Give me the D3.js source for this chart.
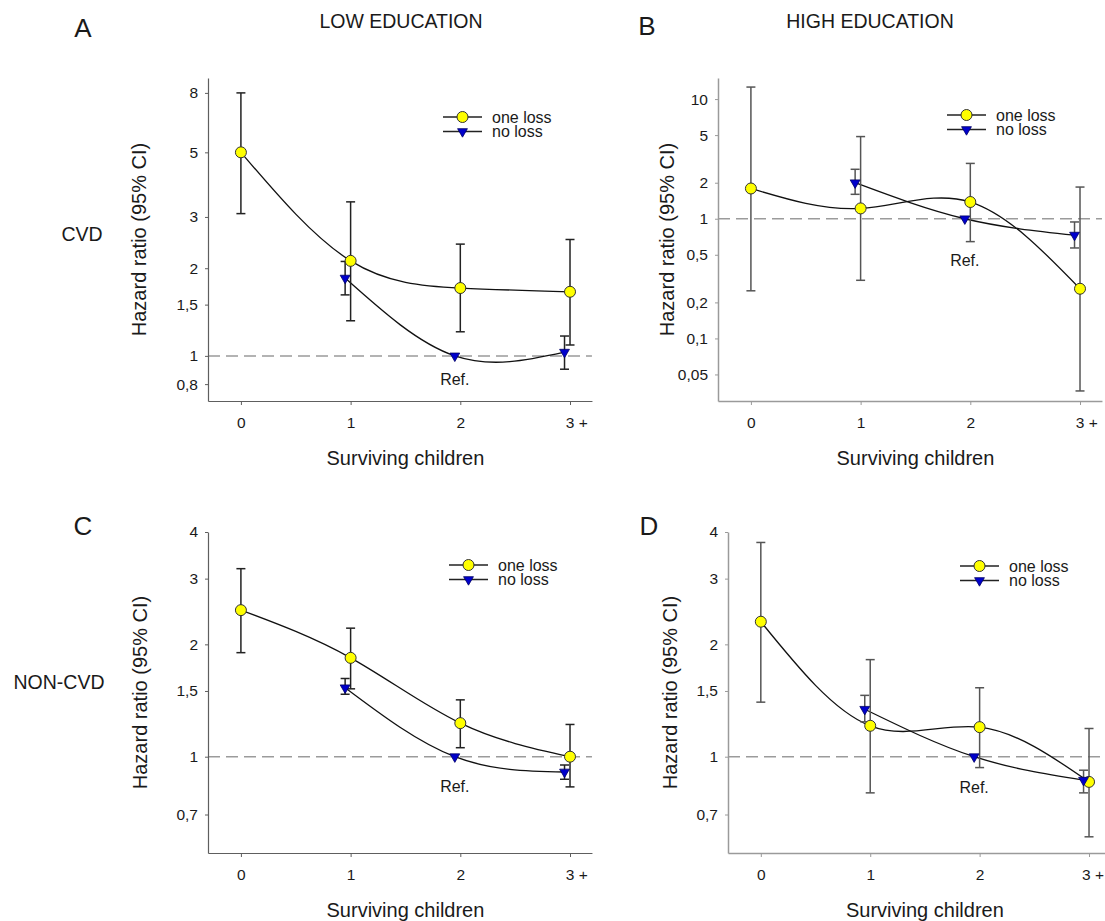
<!DOCTYPE html>
<html>
<head>
<meta charset="utf-8">
<script src="https://cdn.jsdelivr.net/npm/d3@7"></script>
<style>
  body { margin: 0; background: #fff; }
  svg text { font-family: "Liberation Sans", Arial, sans-serif; fill: #1a1a1a; }
</style>
</head>
<body>
<script>
// categories on x axis
var categories = ["0", "1", "2", "3 +"];
var xValues = [0, 1, 2, 3];

// A: low education, CVD
var aOneHR = [5.0, 2.12, 1.71, 1.66];
var aOneLo = [3.08, 1.32, 1.21, 1.09];
var aOneHi = [8.0, 3.38, 2.42, 2.51];
var aNoHR = [null, 1.85, 1.0, 1.03];
var aNoLo = [null, 1.62, null, 0.90];
var aNoHi = [null, 2.11, null, 1.17];

// B: high education, CVD
var bOneHR = [1.79, 1.22, 1.38, 0.26];
var bOneLo = [0.25, 0.306, 0.644, 0.0364];
var bOneHi = [12.6, 4.86, 2.9, 1.84];
var bNoHR = [null, 2.0, 1.0, 0.73];
var bNoLo = [null, 1.6, null, 0.57];
var bNoHi = [null, 2.59, null, 0.94];

// C: low education, non-CVD
var cOneHR = [2.47, 1.84, 1.23, 1.0];
var cOneLo = [1.90, 1.52, 1.057, 0.83];
var cOneHi = [3.19, 2.21, 1.42, 1.22];
var cNoHR = [null, 1.53, 1.0, 0.91];
var cNoLo = [null, 1.47, null, 0.87];
var cNoHi = [null, 1.62, null, 0.95];

// D: high education, non-CVD
var dOneHR = [2.30, 1.21, 1.20, 0.856];
var dOneLo = [1.40, 0.80, 0.935, 0.61];
var dOneHi = [3.75, 1.82, 1.53, 1.19];
var dNoHR = [null, 1.34, 1.0, 0.865];
var dNoLo = [null, 1.24, null, 0.80];
var dNoHi = [null, 1.46, null, 0.92];

// y axis ticks / domains
var aTicks = [0.8, 1, 1.5, 2, 3, 5, 8];
var bTicks = [0.05, 0.1, 0.2, 0.5, 1, 2, 5, 10];
var cdTicks = [0.7, 1, 1.5, 2, 3, 4];
var aDomain = [0.7, 9];
var bDomain = [0.03, 15];
var cdDomain = [0.552, 4];

var seriesNames = ["one loss", "no loss"];
var refLabel = "Ref.";
var xTitle = "Surviving children";
var yTitle = "Hazard ratio (95% CI)";

var noLossShift = -0.05; // no loss markers sit a bit left of the tick

var svg = d3.select("body").append("svg")
  .attr("width", 1105)
  .attr("height", 921);

// panel boxes and styling
var panels = [
  { letter: "A", one: [aOneHR, aOneLo, aOneHi], no: [aNoHR, aNoLo, aNoHi], ticks: aTicks, domain: aDomain,
    left: 208, top: 78, bottom: 401, unit: 109.7, axisCol: "#5e5e5e", axisW: 1.2, barCol: "#222",
    legX: 235, legY: 39, refDy: 29, titleX: 146, letterX: 83, letterY: 37, lastDx: -4.8 },
  { letter: "B", one: [bOneHR, bOneLo, bOneHi], no: [bNoHR, bNoLo, bNoHi], ticks: bTicks, domain: bDomain,
    left: 718, top: 78, bottom: 401, unit: 109.7, axisCol: "#9a9a9a", axisW: 1.5, barCol: "#555",
    legX: 229, legY: 37, refDy: 47, titleX: 674, letterX: 647, letterY: 35, lastDx: -4.8 },
  { letter: "C", one: [cOneHR, cOneLo, cOneHi], no: [cNoHR, cNoLo, cNoHi], ticks: cdTicks, domain: cdDomain,
    left: 208, top: 532, bottom: 853, unit: 109.7, axisCol: "#5e5e5e", axisW: 1.2, barCol: "#222",
    legX: 241, legY: 33, refDy: 35, titleX: 147, letterX: 83, letterY: 535, lastDx: -4.8 },
  { letter: "D", one: [dOneHR, dOneLo, dOneHi], no: [dNoHR, dNoLo, dNoHi], ticks: cdTicks, domain: cdDomain,
    left: 728, top: 532, bottom: 853, unit: 109.4, axisCol: "#9a9a9a", axisW: 1.5, barCol: "#555",
    legX: 232, legY: 34, refDy: 36, titleX: 677, letterX: 649, letterY: 535, lastDx: -7.5 }
];

function fmt(v) {
  return String(v).replace(".", ",");
}

var triangle = d3.symbol().type(d3.symbolTriangle).size(42);

panels.forEach(function (p) {
  var x = d3.scaleLinear().domain([-0.3, 3.2])
    .range([p.left, p.left + 3.5 * p.unit]);
  var y = d3.scaleLog().domain(p.domain).range([p.bottom, p.top]);

  var g = svg.append("g");

  // reference line at HR = 1
  g.append("line")
    .attr("x1", x(-0.3)).attr("x2", x(3.2))
    .attr("y1", y(1)).attr("y2", y(1))
    .attr("stroke", "#9b9b9b").attr("stroke-width", 1.5)
    .attr("stroke-dasharray", "12,6");

  // axes
  var xAxis = d3.axisBottom(x).tickValues(xValues)
    .tickFormat(function (d, i) { return categories[i]; })
    .tickSize(4).tickPadding(12).tickSizeOuter(0);
  var gx = g.append("g")
    .attr("transform", "translate(0," + p.bottom + ")")
    .call(xAxis);
  gx.selectAll(".tick:last-of-type text").attr("text-anchor", "start").attr("x", p.lastDx);

  var yAxis = d3.axisLeft(y).tickValues(p.ticks).tickFormat(fmt)
    .tickSize(3).tickPadding(7).tickSizeOuter(0);
  var gy = g.append("g")
    .attr("transform", "translate(" + p.left + ",0)")
    .call(yAxis);

  [gx, gy].forEach(function (ax) {
    ax.attr("font-size", 15.5).attr("font-family", "'Liberation Sans', Arial, sans-serif");
    ax.select(".domain").attr("stroke", p.axisCol).attr("stroke-width", p.axisW);
    ax.selectAll(".tick line").attr("stroke", p.axisCol);
    ax.selectAll("text").attr("fill", "#1a1a1a").style("font-size", "15.5px");
  });

  // axis titles
  g.append("text")
    .attr("x", x(1.5)).attr("y", p.bottom + 64)
    .attr("text-anchor", "middle").style("font-size", "20px")
    .text(xTitle);
  g.append("text")
    .attr("transform", "translate(" + p.titleX + "," + (p.top + p.bottom) / 2 + ") rotate(-90)")
    .attr("text-anchor", "middle").style("font-size", "20px")
    .text(yTitle);

  // panel letter
  g.append("text")
    .attr("x", p.letterX).attr("y", p.letterY)
    .attr("text-anchor", "middle").style("font-size", "26px")
    .text(p.letter);

  // build point lists
  var onePts = xValues.map(function (v, i) {
    return { x: v, hr: p.one[0][i], lo: p.one[1][i], hi: p.one[2][i] };
  });
  var noPts = xValues.map(function (v, i) {
    return { x: v + noLossShift, hr: p.no[0][i], lo: p.no[1][i], hi: p.no[2][i] };
  }).filter(function (d) { return d.hr != null; });

  var line = d3.line().curve(d3.curveNatural)
    .x(function (d) { return x(d.x); })
    .y(function (d) { return y(d.hr); });

  g.append("path").datum(onePts).attr("d", line)
    .attr("fill", "none").attr("stroke", "#111").attr("stroke-width", 1.3);
  g.append("path").datum(noPts).attr("d", line)
    .attr("fill", "none").attr("stroke", "#111").attr("stroke-width", 1.3);

  // error bars
  var bars = onePts.concat(noPts).filter(function (d) { return d.lo != null; });
  bars.forEach(function (d) {
    var cx = x(d.x);
    g.append("line").attr("x1", cx).attr("x2", cx)
      .attr("y1", y(d.lo)).attr("y2", y(d.hi))
      .attr("stroke", p.barCol).attr("stroke-width", 1.5);
    [d.lo, d.hi].forEach(function (v) {
      g.append("line").attr("x1", cx - 4.5).attr("x2", cx + 4.5)
        .attr("y1", y(v)).attr("y2", y(v))
        .attr("stroke", p.barCol).attr("stroke-width", 1.5);
    });
  });

  // markers
  g.selectAll(".one").data(onePts).enter().append("circle")
    .attr("cx", function (d) { return x(d.x); })
    .attr("cy", function (d) { return y(d.hr); })
    .attr("r", 5.5)
    .attr("fill", "#ffff00").attr("stroke", "#333").attr("stroke-width", 1);
  g.selectAll(".no").data(noPts).enter().append("path")
    .attr("d", triangle)
    .attr("transform", function (d) { return "translate(" + x(d.x) + "," + y(d.hr) + ") rotate(180)"; })
    .attr("fill", "#0000cc").attr("stroke", "#000066").attr("stroke-width", 0.8);

  // Ref. label under the reference category
  g.append("text")
    .attr("x", x(1.95)).attr("y", y(1) + p.refDy)
    .attr("text-anchor", "middle").style("font-size", "16px")
    .text(refLabel);

  // legend
  var lx = p.left + p.legX, ly = p.top + p.legY;
  seriesNames.forEach(function (name, i) {
    var yy = ly + i * 14.5;
    g.append("line").attr("x1", lx).attr("x2", lx + 39)
      .attr("y1", yy).attr("y2", yy)
      .attr("stroke", "#222").attr("stroke-width", 1.3);
    if (i === 0) {
      g.append("circle").attr("cx", lx + 19.5).attr("cy", yy).attr("r", 5.5)
        .attr("fill", "#ffff00").attr("stroke", "#333");
    } else {
      g.append("path").attr("d", triangle)
        .attr("transform", "translate(" + (lx + 19.5) + "," + yy + ") rotate(180)")
        .attr("fill", "#0000cc").attr("stroke", "#000066").attr("stroke-width", 0.8);
    }
    g.append("text").attr("x", lx + 49).attr("y", yy + 5.5)
      .style("font-size", "16px").text(name);
  });
});

// column and row headings
svg.append("text").attr("x", 401).attr("y", 28).attr("text-anchor", "middle")
  .style("font-size", "19.5px").text("LOW EDUCATION");
svg.append("text").attr("x", 870).attr("y", 28).attr("text-anchor", "middle")
  .style("font-size", "19.5px").text("HIGH EDUCATION");
svg.append("text").attr("x", 82).attr("y", 241).attr("text-anchor", "middle")
  .style("font-size", "19.5px").text("CVD");
svg.append("text").attr("x", 59).attr("y", 689).attr("text-anchor", "middle")
  .style("font-size", "19.5px").text("NON-CVD");
</script>
</body>
</html>
